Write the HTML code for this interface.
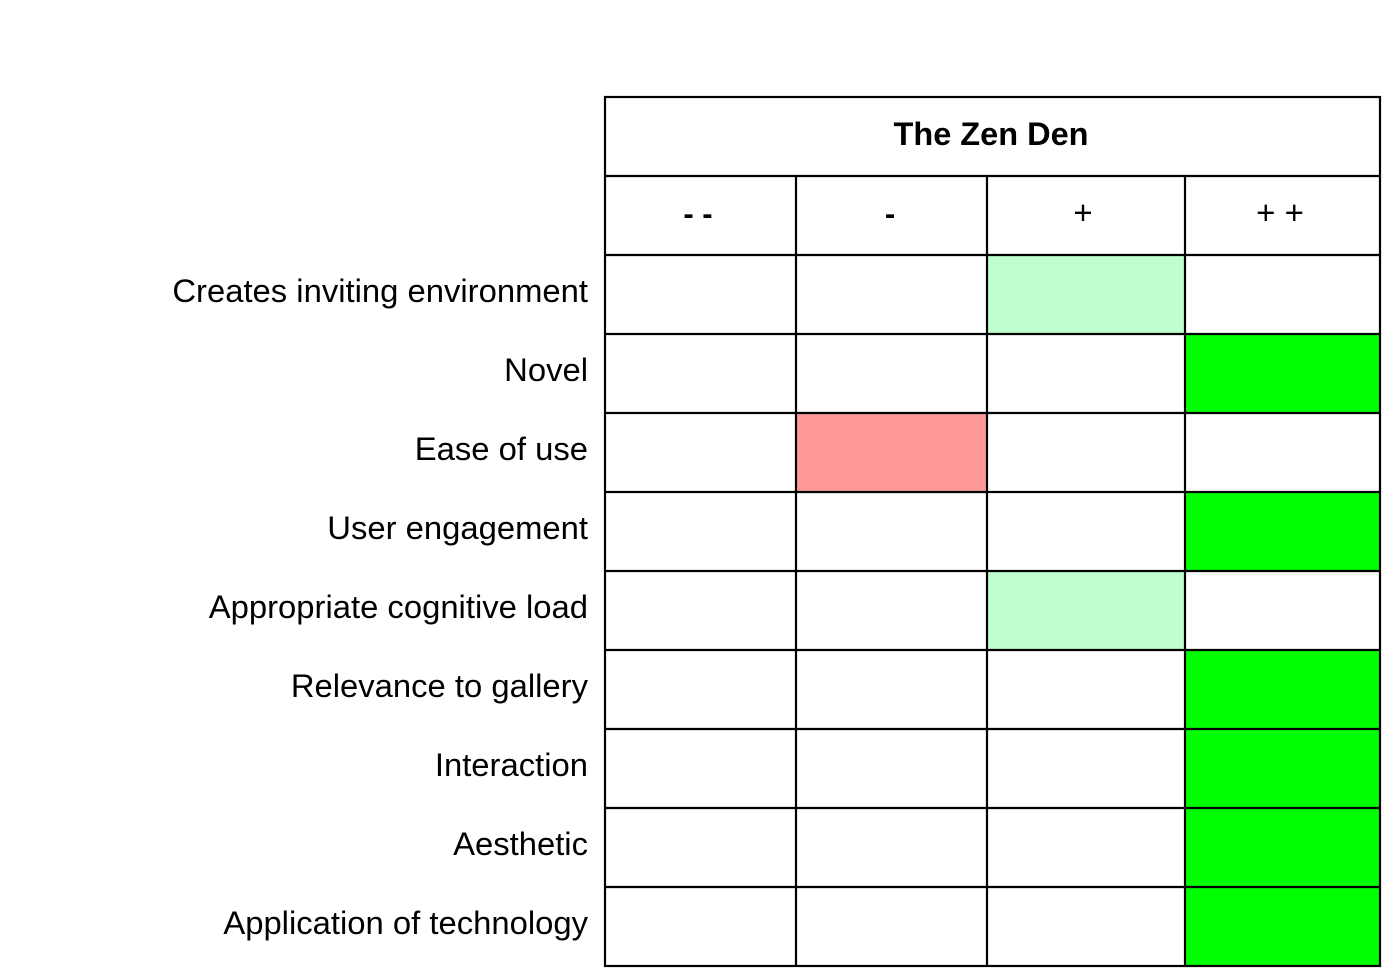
<!DOCTYPE html>
<html><head><style>html,body{margin:0;padding:0;background:#fff;}svg{display:block}</style></head>
<body>
<svg width="1395" height="980" xmlns="http://www.w3.org/2000/svg" font-family="Liberation Sans, Arial, sans-serif">
<rect width="1395" height="980" fill="#fff"/>
<rect x="987" y="255" width="198" height="79" fill="#bfffcf"/>
<rect x="1185" y="334" width="195" height="79" fill="#00ff00"/>
<rect x="796" y="413" width="191" height="79" fill="#ff9999"/>
<rect x="1185" y="492" width="195" height="79" fill="#00ff00"/>
<rect x="987" y="571" width="198" height="79" fill="#bfffcf"/>
<rect x="1185" y="650" width="195" height="316" fill="#00ff00"/>
<g stroke="#000" stroke-width="2.2" fill="none">
<rect x="605" y="97" width="775" height="869"/>
<line x1="605" y1="176" x2="1380" y2="176"/>
<line x1="605" y1="255" x2="1380" y2="255"/>
<line x1="605" y1="334" x2="1380" y2="334"/>
<line x1="605" y1="413" x2="1380" y2="413"/>
<line x1="605" y1="492" x2="1380" y2="492"/>
<line x1="605" y1="571" x2="1380" y2="571"/>
<line x1="605" y1="650" x2="1380" y2="650"/>
<line x1="605" y1="729" x2="1380" y2="729"/>
<line x1="605" y1="808" x2="1380" y2="808"/>
<line x1="605" y1="887" x2="1380" y2="887"/>
<line x1="796" y1="176" x2="796" y2="966"/>
<line x1="987" y1="176" x2="987" y2="966"/>
<line x1="1185" y1="176" x2="1185" y2="966"/>
</g>
<text x="991" y="145" font-size="32.5" font-weight="bold" text-anchor="middle">The Zen Den</text>
<g font-size="31" text-anchor="middle" font-weight="bold">
<text x="698" y="224">- -</text>
<text x="890" y="224">-</text>
</g>
<g font-size="33" text-anchor="middle">
<text x="1083" y="224">+</text>
<text x="1280" y="224">+ +</text>
</g>
<g font-size="32.8" text-anchor="end">
<text x="588" y="302">Creates inviting environment</text>
<text x="588" y="381">Novel</text>
<text x="588" y="460">Ease of use</text>
<text x="588" y="539">User engagement</text>
<text x="588" y="618">Appropriate cognitive load</text>
<text x="588" y="697">Relevance to gallery</text>
<text x="588" y="776">Interaction</text>
<text x="588" y="855">Aesthetic</text>
<text x="588" y="934">Application of technology</text>
</g>
</svg>
</body></html>
